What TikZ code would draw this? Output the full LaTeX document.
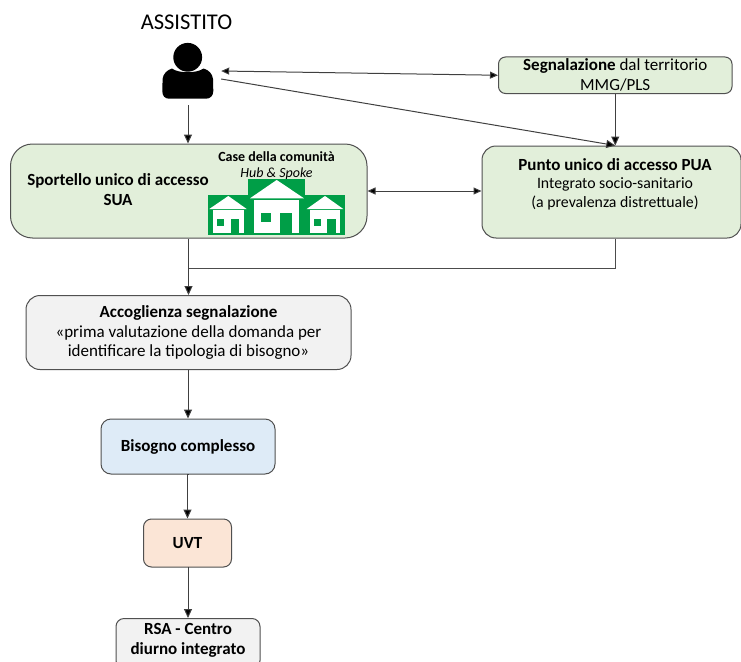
\documentclass[tikz,border=0pt]{standalone}
\usepackage{fontspec}
\setmainfont{Carlito}
\usetikzlibrary{arrows.meta,calc}
\definecolor{boxgreen}{HTML}{E2EFDA}
\definecolor{boxgrey}{HTML}{F2F2F2}
\definecolor{boxblue}{HTML}{DEEBF7}
\definecolor{boxorange}{HTML}{FBE5D6}
\definecolor{iconGreen}{HTML}{009E47}
\definecolor{edge}{HTML}{505050}
\newcommand{\fs}[2]{\fontsize{#1}{#2}\selectfont}
\tikzset{
  x=1pt,y=-1pt,
  box/.style={draw=edge,line width=1pt,rounded corners=#1,inner sep=0pt,align=center,text=black},
  box/.default=9pt,
  lbl/.style={inner sep=0pt,align=center,text=black},
  conn/.style={draw=black!75,line width=1pt,-{Triangle[length=9pt,width=8pt,fill=black]}},
  conntwo/.style={draw=black!75,line width=1pt,{Triangle[length=8pt,width=7pt,fill=black]}-{Triangle[length=8pt,width=7pt,fill=black]}},
  plainline/.style={draw=black!70,line width=1pt},
}
\begin{document}
\begin{tikzpicture}
\useasboundingbox (0,0) rectangle (741,661);
% boxes
\node[box=22pt,fill=boxgreen,minimum width=356.5pt,minimum height=94pt] (sua) at (188.75,191) {};
\node[box=7pt,fill=boxgreen,minimum width=233.5pt,minimum height=36.5pt,font=\fs{17}{20}] (segn) at (615.25,75.25) {\textbf{Segnalazione} dal territorio\\MMG/PLS};
\node[box=14pt,fill=boxgreen,minimum width=259pt,minimum height=92pt] (pua) at (611.5,192) {};
\node[box=14pt,fill=boxgrey,minimum width=325pt,minimum height=74pt,font=\fs{17}{19.7}] (acc) at (188.5,332.5) {\textbf{Accoglienza segnalazione}\\«prima valutazione della domanda per\\identificare la tipologia di bisogno»};
\node[box=10pt,fill=boxblue,minimum width=174pt,minimum height=55pt,font=\fs{17}{20}\bfseries] (bis) at (188,446.5) {Bisogno complesso};
\node[box=8pt,fill=boxorange,minimum width=88pt,minimum height=48pt,font=\fs{17}{20}\bfseries] (uvt) at (187.5,543) {UVT};
\node[box=8pt,fill=boxgrey,minimum width=144pt,minimum height=50pt,anchor=north] (rsa) at (188,618) {};
\node[lbl,font=\fs{17}{20.5}\bfseries] (rsatext) at (188,640.5) {RSA - Centro\\diurno integrato};
% texts in the large boxes
\node[lbl,font=\fs{22.5}{26}] (title) at (186.5,22) {ASSISTITO};
\node[lbl,font=\fs{17}{20}\bfseries] (suatext) at (118,190) {Sportello unico di accesso\\SUA\hspace{12pt}};
\node[lbl,font=\fs{14}{16.5}] (casetext) at (276.5,165.5) {\textbf{Case della comunità}\\\textit{Hub \& Spoke}};
\node[lbl,font=\fs{17}{18.5}] (puatext) at (615,184) {\textbf{Punto unico di accesso PUA}\\{\fs{15.8}{18.5}Integrato socio-sanitario}\\{\fs{15.8}{18.5}(a prevalenza distrettuale)}};
% house icon
\fill[iconGreen] (208,195) rectangle (345,235);
\fill[iconGreen] (248,178.5) rectangle (305,195);
\begin{scope}[white]
  \fill (276.7,180) -- (304,198.3) -- (250,198.3) -- cycle;
  \fill (254.3,200) rectangle (299.3,232.7);
  \fill (228.3,196) -- (246.7,209) -- (209.3,209) -- cycle;
  \fill (213.3,210) rectangle (244,233.3);
  \fill (325,196) -- (343.3,209) -- (306.7,209) -- cycle;
  \fill (310,210) rectangle (340,233.3);
\end{scope}
\fill[iconGreen] (261,212.7) rectangle (270.7,221.7);
\fill[iconGreen] (280,213.3) rectangle (291.7,232.7);
\fill[iconGreen] (217.3,219.3) rectangle (224,225.7);
\fill[iconGreen] (231,219.3) rectangle (239,233.3);
\fill[iconGreen] (314,219.3) rectangle (320.7,225.7);
\fill[iconGreen] (327.3,219.3) rectangle (335.7,233.3);
% person
\node[minimum width=66pt,minimum height=68pt,inner sep=0pt] (person) at (188,71) {};
\fill[black] (187.7,57.3) circle[radius=14.4];
\fill[black] (172,68.5) .. controls (178,73.5) and (197,73.5) .. (203.5,68.5)
  .. controls (209,70) and (212.5,74) .. (213,79) -- (213.3,91)
  .. controls (213.3,96) and (210,98.7) .. (206,98.7) -- (169,98.7)
  .. controls (165,98.7) and (162.3,96) .. (162.3,91) -- (162.6,79)
  .. controls (163,74) and (167,70) .. (172,68.5) -- cycle;
% connectors
\draw[conn] (person.south) -- (sua.north -| person.south);
\draw[conntwo] (person.east) -- (segn.west);
\draw[conn] ($(person.east)+(0,8)$) -- (segn.south |- pua.north);
\draw[conn] (segn.south) -- (segn.south |- pua.north);
\draw[conntwo] (sua.east) -- (sua.east -| pua.west);
\coordinate (join) at (acc.north |- 0,268);
\draw[conn] (acc.north |- sua.south) -- (acc.north);
\draw[plainline] (segn.south |- pua.south) -- (segn.south |- join) -- (join);
\draw[conn] (acc.south) -- (acc.south -| bis.north) -- (bis.north);
\draw[conn] (bis.south) -- (bis.south -| uvt.north) -- (uvt.north);
\draw[conn] (uvt.south) -- (uvt.south -| rsa.north) -- (rsa.north);
\end{tikzpicture}
\end{document}
